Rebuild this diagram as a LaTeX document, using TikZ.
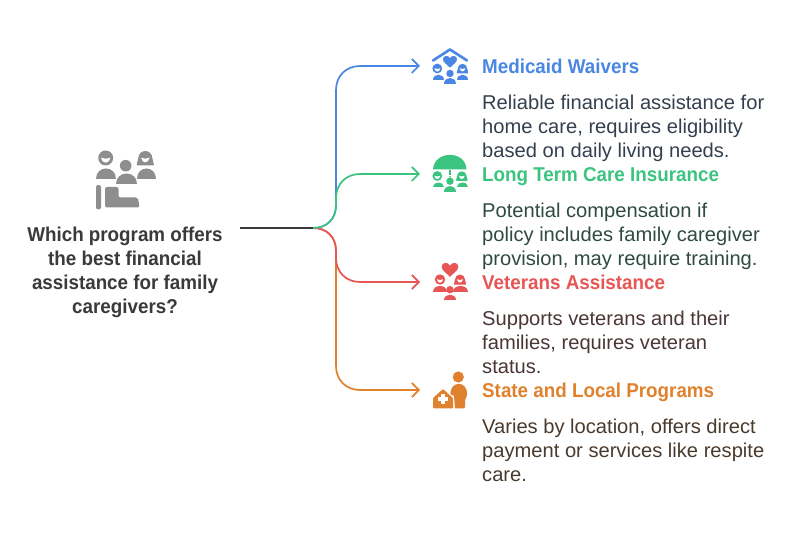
\documentclass[tikz,border=0pt]{standalone}
\usepackage{fontspec}
\setmainfont{Liberation Sans}
\newfontfamily\hdfont[FakeStretch=0.94]{Liberation Sans Bold}
\newfontfamily\bdfont[FakeStretch=1.007]{Liberation Sans}
\usetikzlibrary{arrows.meta}
\definecolor{cblue}{HTML}{4A86E4}
\definecolor{cgreen}{HTML}{3BC47F}
\definecolor{cred}{HTML}{E85555}
\definecolor{corange}{HTML}{E0822D}
\definecolor{cgrey}{HTML}{8E8E8E}
\definecolor{tblue}{HTML}{35404F}
\definecolor{tgreen}{HTML}{2F4A44}
\definecolor{tred}{HTML}{4A3636}
\definecolor{torange}{HTML}{4A3A2C}
\definecolor{tdark}{HTML}{3A3A3A}
\newcommand\hrt[4]{\fill[#4,shift={(#1,#2)},scale=#3] (0,.46) .. controls (-.2,.24) and (-.52,.06) .. (-.52,-.16) .. controls (-.52,-.46) and (-.12,-.5) .. (0,-.24) .. controls (.12,-.5) and (.52,-.46) .. (.52,-.16) .. controls (.52,.06) and (.2,.24) .. (0,.46) -- cycle;}
% dome body: x1,x2,ybottom,ytop,colour
\newcommand\dome[5]{\fill[#5] (#1,#3) .. controls (#1,{#3+(#4-#3)*1.33}) and (#2,{#3+(#4-#3)*1.33}) .. (#2,#3) -- cycle;}
% ring head: cx, cy, r, colour
\newcommand\ringhead[4]{\fill[#4] (#1,#2) circle (#3); \fill[white] (#1-.62*#3,#2-.05*#3) .. controls (#1-.4*#3,#2+.85*#3) and (#1+.4*#3,#2+.85*#3) .. (#1+.62*#3,#2-.05*#3) .. controls (#1+.2*#3,#2+.15*#3) and (#1-.2*#3,#2+.15*#3) .. cycle;}
\newcommand\hairhead[4]{\fill[#4] (#1,#2) circle (#3); \fill[#4,rounded corners=.6pt] (#1-1.25*#3,#2+1.05*#3) -- (#1-#3,#2) -- (#1+#3,#2) -- (#1+1.25*#3,#2+1.05*#3) -- cycle; \fill[white] (#1-.62*#3,#2-.05*#3) .. controls (#1-.4*#3,#2+.85*#3) and (#1+.4*#3,#2+.85*#3) .. (#1+.62*#3,#2-.05*#3) .. controls (#1+.2*#3,#2+.15*#3) and (#1-.2*#3,#2+.15*#3) .. cycle;}
\tikzset{
  head/.style={font=\fontsize{20}{24}\selectfont\hdfont,anchor=base west,inner sep=0pt},
  body/.style={font=\fontsize{20}{24}\selectfont\bdfont,anchor=north west,inner sep=0pt,align=left},
  ques/.style={font=\fontsize{20}{24}\selectfont\hdfont,anchor=north,inner sep=0pt,align=center,text=tdark},
  conn/.style={line width=1.7pt},
  tip/.style={-{Straight Barb[length=7pt,width=14pt,line width=1.7pt]}}
}
\begin{document}
\begin{tikzpicture}[x=1pt,y=-1pt]
\useasboundingbox[fill=white] (0,0) rectangle (804,534);
\coordinate (start) at (240,228);
\coordinate (hub) at (313,228);
\coordinate (eb) at (420,66);
\coordinate (eg) at (420,174);
\coordinate (er) at (420,282);
\coordinate (eo) at (420,390);
% connectors
\draw[conn,corange,tip] (hub) .. controls (327,228) and (336,237) .. (336,251) -- (336,366) .. controls (336,380) and (346,390) .. (360,390) -- (eo);
\draw[conn,cblue,tip] (hub) .. controls (327,228) and (336,219) .. (336,205) -- (336,90) .. controls (336,76) and (346,66) .. (360,66) -- (eb);
\draw[conn,cred,tip] (hub) .. controls (327,228) and (336,237) .. (336,251) -- (336,258) .. controls (336,272) and (346,282) .. (360,282) -- (er);
\draw[conn,cgreen,tip] (hub) .. controls (327,228) and (336,219) .. (336,205) -- (336,198) .. controls (336,184) and (346,174) .. (360,174) -- (eg);
\draw[conn,tdark] (start) -- (hub);
% left icon
\ringhead{105.7}{158}{7.5}{cgrey}
\hairhead{145.3}{158}{7}{cgrey}
\fill[cgrey] (125.7,165.7) circle (5.8);
\dome{96}{116}{179.5}{168.5}{cgrey}
\dome{116}{136.5}{184.5}{173.5}{cgrey}
\dome{137}{156}{179.5}{168.5}{cgrey}
\fill[cgrey,rounded corners=2.2pt] (96,185) rectangle (101,209.5);
\fill[cgrey,rounded corners=2pt] (105,187) -- (118.5,187) -- (118.5,197.5) -- (138,197.5) -- (139.5,207.5) -- (105,207.5) -- cycle;
\node[ques] (q) at (125,226.5) {Which program offers\\the best financial\\assistance for family\\caregivers?};
% blue icon
\draw[cblue,line width=2.6pt,line cap=round,line join=round] (433,60.5) -- (450,49.5) -- (467,60.5);
\hrt{450}{61.5}{13.5}{cblue}
\ringhead{437.3}{68.5}{4.9}{cblue}
\hairhead{462.5}{68.5}{4.7}{cblue}
\fill[cblue] (450,73.5) circle (3.7);
\dome{432.5}{443.5}{80.5}{74.8}{cblue}
\dome{444}{456}{84.5}{78.3}{cblue}
\dome{456.5}{467.5}{80.5}{74.8}{cblue}
\node[head,text=cblue] (t1) at (482,74) {Medicaid Waivers};
\node[body,text=tblue] (d1) at (482,94.5) {Reliable financial assistance for\\home care, requires eligibility\\based on daily living needs.};
% green icon
\fill[cgreen] (433,169.5) .. controls (434,150) and (466,150) .. (466.5,169.5) -- cycle;
\fill[cgreen] (449.2,170.5) rectangle (450.8,175);
\fill[cgreen] (450,176.8) circle (.9);
\ringhead{437.3}{176}{4.9}{cgreen}
\hairhead{461.8}{176}{4.7}{cgreen}
\fill[cgreen] (450,181.2) circle (3.7);
\dome{432.5}{443.5}{187.5}{182.3}{cgreen}
\dome{444}{456}{192.5}{186.3}{cgreen}
\dome{456.5}{467.5}{187.5}{182.3}{cgreen}
\node[head,text=cgreen] (t2) at (482,182) {Long Term Care Insurance};
\node[body,text=tgreen] (d2) at (482,202.5) {Potential compensation if\\policy includes family caregiver\\provision, may require training.};
% red icon
\hrt{450}{269.5}{16}{cred}
\ringhead{440}{279.5}{5.2}{cred}
\hairhead{460}{279.5}{5}{cred}
\fill[cred] (450,289.7) circle (3.7);
\dome{432.5}{447}{292.5}{286}{cred}
\dome{444}{456}{300.5}{294.7}{cred}
\dome{453}{467.5}{292.5}{286}{cred}
\node[head,text=cred] (t3) at (482,290) {Veterans Assistance};
\node[body,text=tred] (d3) at (482,310.5) {Supports veterans and their\\families, requires veteran\\status.};
% orange icon
\fill[corange] (458.3,377) circle (5.6);
\fill[corange] (450.3,394) .. controls (450.3,380.5) and (467.2,380.5) .. (467.2,394) .. controls (467.2,397) and (465.5,398) .. (465,400) -- (465,406.5) .. controls (465,408) and (464.5,408.5) .. (463,408.5) -- (455,408.5) -- (454,396) -- cycle;
\fill[corange,rounded corners=1pt] (433,408.5) -- (433,398) -- (443,389) -- (453,398) -- (453,408.5) -- cycle;
\fill[white] (441,393.8) rectangle (444.8,404.2);
\fill[white] (437.7,397.1) rectangle (448.1,400.9);
\node[head,text=corange] (t4) at (482,398) {State and Local Programs};
\node[body,text=torange] (d4) at (482,418.5) {Varies by location, offers direct\\payment or services like respite\\care.};
\end{tikzpicture}
\end{document}
